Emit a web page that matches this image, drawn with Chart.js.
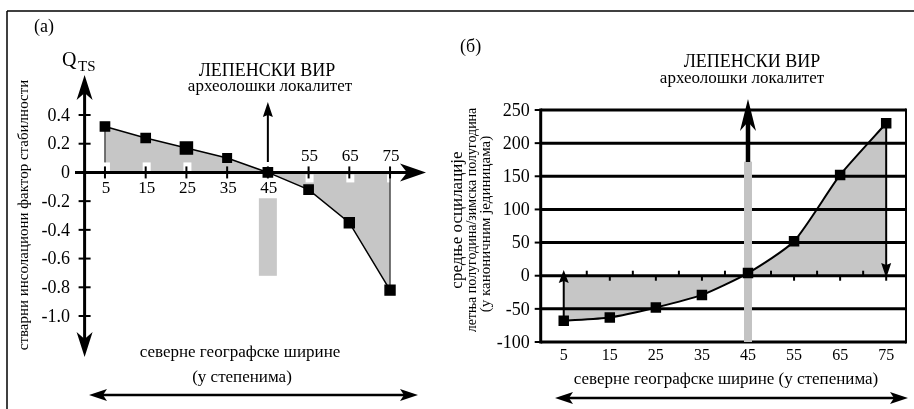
<!DOCTYPE html>
<html>
<head>
<meta charset="utf-8">
<script src="https://cdn.jsdelivr.net/npm/chart.js@4.4.1/dist/chart.umd.min.js"></script>
<style>
  html, body { margin: 0; padding: 0; background: #fff; }
  #wrap { position: relative; width: 914px; height: 409px; overflow: hidden; }
  #wrap canvas { position: absolute; left: 0; top: 0; }
</style>
</head>
<body>
<div id="wrap">
  <canvas id="chartA" width="914" height="409"></canvas>
  <canvas id="chartB" width="914" height="409"></canvas>
</div>
<script>
// latitude (degrees north) and the two measured series
const latitudes = [5, 15, 25, 35, 45, 55, 65, 75];
const stabilityFactor = [0.32, 0.24, 0.17, 0.10, 0.0, -0.12, -0.35, -0.82];
const oscillation = [-68, -63, -48, -29, 4, 52, 152, 230];

// tick values and labels
const stabilityTicks = [0.4, 0.2, 0, -0.2, -0.4, -0.6, -0.8, -1.0];
const stabilityTickLabels = ['0.4', '0.2', '0', '-0.2', '-0.4', '-0.6', '-0.8', '-1.0'];
const oscillationTicks = [250, 200, 150, 100, 50, 0, -50, -100];
const minorLatitudes = [10, 20, 30, 40, 50, 60, 70];

// the archaeological site
const siteLatitude = 45;
const siteBandA = [-0.18, -0.72];
const siteBandB = [172, -100];

const FONT = '"Liberation Serif", "DejaVu Serif", serif';
const GRAY = '#c6c6c6';

function text(ctx, str, x, y, size, align = 'center', base = 'middle') {
    ctx.font = size + 'px ' + FONT;
    ctx.textAlign = align;
    ctx.textBaseline = base;
    ctx.fillStyle = '#000';
    ctx.fillText(str, x, y);
}

function vtext(ctx, str, x, y, size) {
    ctx.save();
    ctx.translate(x, y);
    ctx.rotate(-Math.PI / 2);
    text(ctx, str, 0, 0, size);
    ctx.restore();
}

function seg(ctx, x1, y1, x2, y2, w) {
    ctx.beginPath();
    ctx.moveTo(x1, y1);
    ctx.lineTo(x2, y2);
    ctx.lineWidth = w;
    ctx.strokeStyle = '#000';
    ctx.stroke();
}

// barbed arrow head, tip at (tx, ty), angle 0 = pointing right
function head(ctx, tx, ty, angle, len, half, notch) {
    ctx.save();
    ctx.translate(tx, ty);
    ctx.rotate(angle);
    ctx.beginPath();
    ctx.moveTo(0, 0);
    ctx.lineTo(-len, -half);
    ctx.lineTo(-len + notch, 0);
    ctx.lineTo(-len, half);
    ctx.closePath();
    ctx.fillStyle = '#000';
    ctx.fill();
    ctx.restore();
}

const UP = -Math.PI / 2, DOWN = Math.PI / 2, LEFT = Math.PI, RIGHT = 0;

const panelA = {
    id: 'panelA',
    beforeDatasetsDraw(chart) {
        const { ctx, scales: { x, y } } = chart;
        const x0 = x.getPixelForValue(0);
        const y0 = y.getPixelForValue(0);
        ctx.save();
        // site band under the axis
        const xs = x.getPixelForValue(siteLatitude);
        const b1 = y.getPixelForValue(siteBandA[0]), b2 = y.getPixelForValue(siteBandA[1]);
        ctx.fillStyle = '#c8c8c8';
        ctx.fillRect(xs - 9, b1, 18, b2 - b1);
        // little white notches at the ticks
        ctx.fillStyle = '#fff';
        latitudes.forEach(lat => {
            const px = x.getPixelForValue(lat);
            if (lat < 30) ctx.fillRect(px - 3, y0 - 10, 8, 9);
            if (lat > 50) ctx.fillRect(px - 3, y0 + 2, 8, 8);
        });
        // fill edges
        seg(ctx, x.getPixelForValue(5), y.getPixelForValue(stabilityFactor[0]), x.getPixelForValue(5), y0 - 10, 1);
        seg(ctx, x.getPixelForValue(75), y0, x.getPixelForValue(75), y.getPixelForValue(stabilityFactor[7]), 1);
        // axes
        seg(ctx, x0, 90, x0, 345, 3);
        seg(ctx, 75, y0, 410, y0, 3);
        stabilityTicks.forEach(v => {
            const py = y.getPixelForValue(v);
            seg(ctx, x0 - 6, py, x0 + 6, py, 2);
        });
        latitudes.forEach(lat => {
            const px = x.getPixelForValue(lat);
            seg(ctx, px, y0 - 6, px, y0 + 6, 2);
        });
        ctx.restore();
    },
    afterDraw(chart) {
        const { ctx, scales: { x, y } } = chart;
        const x0 = x.getPixelForValue(0);
        const y0 = y.getPixelForValue(0);
        ctx.save();
        // frame of the whole figure
        seg(ctx, 7, 11, 914, 11, 1.5);
        seg(ctx, 7, 11, 7, 409, 1.5);

        head(ctx, x0, 75, UP, 25, 8, 7);
        head(ctx, x0, 357, DOWN, 25, 8, 7);
        head(ctx, 426, y0, RIGHT, 26, 9, 7);

        latitudes.forEach(lat => {
            const px = x.getPixelForValue(lat) + 1;
            if (lat <= 45) text(ctx, String(lat), px, 189, 17);
            else text(ctx, String(lat), px, 157, 17);
        });
        stabilityTicks.forEach((v, i) => {
            text(ctx, stabilityTickLabels[i], 70, y.getPixelForValue(v) + 1, 18, 'right');
        });

        text(ctx, 'Q', 62, 66, 20, 'left', 'alphabetic');
        text(ctx, 'TS', 78, 71, 15, 'left', 'alphabetic');
        text(ctx, '(a)', 34, 27, 18, 'left');

        text(ctx, 'ЛЕПЕНСКИ ВИР', 267, 71, 18);
        text(ctx, 'археолошки локалитет', 270, 87, 17);

        const xs = x.getPixelForValue(siteLatitude);
        seg(ctx, xs, 162, xs, 114, 2);
        head(ctx, xs, 102, UP, 15, 5, 2);

        vtext(ctx, 'стварни инсолациони фактор стабилности', 24, 215, 15);
        text(ctx, 'северне географске ширине', 240, 353, 17);
        text(ctx, '(у степенима)', 242, 378, 17);

        seg(ctx, 100, 395, 406, 395, 2.5);
        head(ctx, 89, 395, LEFT, 18, 6, 4);
        head(ctx, 418, 395, RIGHT, 18, 6, 4);
        ctx.restore();
    }
};

const panelB = {
    id: 'panelB',
    beforeDatasetsDraw(chart) {
        const { ctx, chartArea: a, scales: { x, y } } = chart;
        const y0 = y.getPixelForValue(0);
        ctx.save();
        oscillationTicks.forEach(v => {
            const py = y.getPixelForValue(v);
            seg(ctx, a.left, py, a.right, py, 3);
            seg(ctx, a.left - 6, py, a.left, py, 2);
        });
        seg(ctx, a.left, a.top - 1.5, a.left, a.bottom + 1.5, 3);
        seg(ctx, a.right, a.top - 1.5, a.right, a.bottom + 1.5, 2);
        minorLatitudes.forEach(lat => {
            const px = x.getPixelForValue(lat);
            seg(ctx, px, y0 - 5, px, y0, 2);
        });
        latitudes.forEach(lat => {
            const px = x.getPixelForValue(lat);
            seg(ctx, px, y0, px, y0 + 5, 2);
        });
        // site band
        const xs = x.getPixelForValue(siteLatitude);
        const b1 = y.getPixelForValue(siteBandB[0]), b2 = y.getPixelForValue(siteBandB[1]);
        ctx.fillStyle = '#c3c3c3';
        ctx.fillRect(xs - 4, b1, 8, b2 - b1);
        ctx.restore();
    },
    afterDraw(chart) {
        const { ctx, chartArea: a, scales: { x, y } } = chart;
        ctx.save();
        oscillationTicks.forEach(v => {
            text(ctx, String(v), a.left - 11, y.getPixelForValue(v) + 1, 18, 'right');
        });
        latitudes.forEach(lat => {
            text(ctx, String(lat), x.getPixelForValue(lat), 356, 16);
        });

        // arrows at the ends of the fill
        const xa = x.getPixelForValue(5), xb = x.getPixelForValue(75);
        seg(ctx, xa, y.getPixelForValue(oscillation[0]), xa, 280, 2);
        head(ctx, xa, 270, UP, 13, 5, 2);
        seg(ctx, xb, y.getPixelForValue(oscillation[7]), xb, 266, 2);
        head(ctx, xb, 278, DOWN, 15, 5, 2);

        // site arrow
        const xs = x.getPixelForValue(siteLatitude);
        seg(ctx, xs, 162, xs, 118, 4.5);
        head(ctx, xs, 99, UP, 32, 8, 9);

        text(ctx, '(б)', 460, 47, 18, 'left');
        text(ctx, 'ЛЕПЕНСКИ ВИР', 752, 62, 18);
        text(ctx, 'археолошки локалитет', 742, 79, 17);

        vtext(ctx, 'средње осцилације', 458, 220, 17);
        vtext(ctx, 'летња полугодина/зимска полугодина', 472, 220, 14);
        vtext(ctx, '(у каноничним јединицама)', 486, 224, 15);

        text(ctx, 'северне географске ширине (у степенима)', 726, 380, 17);
        seg(ctx, 566, 398, 897, 398, 2.5);
        head(ctx, 555, 398, LEFT, 18, 6, 4);
        head(ctx, 908, 398, RIGHT, 18, 6, 4);
        ctx.restore();
    }
};

const common = {
    responsive: false,
    animation: false,
    devicePixelRatio: 1,
    events: [],
};

new Chart(document.getElementById('chartA'), {
    type: 'line',
    data: {
        datasets: [{
            data: latitudes.map((lat, i) => ({ x: lat, y: stabilityFactor[i] })),
            borderColor: '#000',
            borderWidth: 1.5,
            backgroundColor: GRAY,
            fill: 'origin',
            tension: 0,
            pointStyle: 'rect',
            pointRadius: [6.5, 6.5, 8.5, 6, 6.5, 6.5, 7, 7],
            pointBackgroundColor: '#000',
            pointBorderColor: '#000',
            clip: false
        }]
    },
    options: {
        ...common,
        layout: { padding: { left: 84.6, right: 503.6, top: 115, bottom: 93 } },
        scales: {
            x: { type: 'linear', min: 0, max: 80, display: false },
            y: { type: 'linear', min: -1.0, max: 0.4, display: false }
        },
        plugins: {
            legend: { display: false },
            tooltip: { enabled: false },
            filler: { drawTime: 'beforeDatasetsDraw' }
        }
    },
    plugins: [panelA]
});

new Chart(document.getElementById('chartB'), {
    type: 'line',
    data: {
        datasets: [{
            data: latitudes.map((lat, i) => ({ x: lat, y: oscillation[i] })),
            borderColor: '#000',
            borderWidth: 2,
            backgroundColor: GRAY,
            fill: 'origin',
            tension: 0.2,
            pointStyle: 'rect',
            pointRadius: 6,
            pointBackgroundColor: '#000',
            pointBorderColor: '#000',
            clip: false
        }]
    },
    options: {
        ...common,
        layout: { padding: { left: 540.7, right: 4, top: 110, bottom: 67 } },
        scales: {
            x: { type: 'linear', min: 0, max: 79.3, display: false },
            y: { type: 'linear', min: -100, max: 250, display: false }
        },
        plugins: {
            legend: { display: false },
            tooltip: { enabled: false },
            filler: { drawTime: 'beforeDatasetsDraw' }
        }
    },
    plugins: [panelB]
});
</script>
</body>
</html>
